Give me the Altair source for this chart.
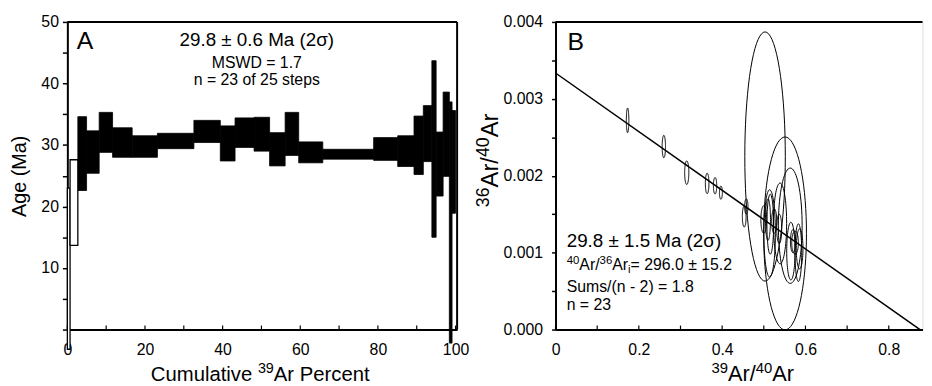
import altair as alt
import pandas as pd

FONT = "Liberation Sans"

# ---------------- Panel A: age spectrum ----------------
step_bounds = [0, 0.7, 2.7, 4.95, 8.2, 11.65, 16.7, 23.2, 32.6, 39.4, 43.2, 48.1, 52.1,
               56.1, 59.6, 65.8, 78.9, 85.1, 89.3, 91.7, 93.9, 95.0, 96.8, 98.4, 99.1, 100]
age_hi = [23.0, 27.6, 34.6, 32.3, 35.3, 32.8, 31.5, 31.9, 34.0, 33.1, 34.4, 34.5, 32.0,
          35.3, 30.5, 29.3, 31.2, 31.5, 34.7, 36.4, 43.7, 32.1, 38.6, 37.0, 35.6]
age_lo = [-3.2, 13.7, 22.6, 25.4, 28.8, 28.0, 28.0, 29.4, 30.4, 27.4, 29.6, 29.0, 26.6,
          28.3, 27.1, 27.7, 27.5, 26.5, 25.2, 27.3, 15.0, 21.7, 24.9, -2.2, 18.9]
included = [False, False] + [True] * 23

xA_ticks = [0, 10, 20, 30, 40, 50, 60, 70, 80, 90, 100]
xA_labels = [0, 20, 40, 60, 80, 100]
yA_ticks = [0, 5, 10, 15, 20, 25, 30, 35, 40, 45, 50]

# ---------------- Panel B: inverse isochron ----------------
ell_x = [0.173, 0.260, 0.315, 0.364, 0.383, 0.397, 0.453, 0.458, 0.503, 0.551, 0.5635, 0.539,
         0.514, 0.500, 0.510, 0.525, 0.537, 0.565, 0.583, 0.586, 0.570, 0.5155, 0.575]
ell_y = [0.00272, 0.00238, 0.00204, 0.00190, 0.00187, 0.00178, 0.00147, 0.00160, 0.00225,
         0.00125, 0.00135, 0.00138, 0.00125, 0.00143, 0.00143, 0.00141, 0.00131, 0.00102,
         0.00100, 0.00105, 0.00115, 0.00137, 0.00113]
ell_dx = [0.003, 0.004, 0.005, 0.0043, 0.004, 0.0035, 0.0045, 0.004, 0.0486, 0.0514, 0.0285,
          0.0158, 0.0138, 0.007, 0.006, 0.006, 0.006, 0.010, 0.008, 0.008, 0.006, 0.008, 0.008]
ell_dy = [0.00016, 0.000146, 0.000154, 0.000133, 0.000107, 0.000086, 0.000137, 0.0001, 0.00162,
          0.001254, 0.00075, 0.000525, 0.000568, 0.00018, 0.00027, 0.00016, 0.00019, 0.000375,
          0.000375, 0.00026, 0.00015, 0.00039, 0.00015]
line_x = [0.0, 0.875]
line_y = [0.003336, 0.0]

xB_ticks = [0.0, 0.1, 0.2, 0.3, 0.4, 0.5, 0.6, 0.7, 0.8]
xB_labels = [0.0, 0.2, 0.4, 0.6, 0.8]
yB_ticks = [0.0, 0.0005, 0.001, 0.0015, 0.002, 0.0025, 0.003, 0.0035, 0.004]

WA, HA = 394, 311
WB, HB = 371, 311
TITLE_BASE = 363

xA_scale = alt.Scale(domain=[0, 100.4], nice=False, zero=False)
yA_scale = alt.Scale(domain=[0, 50], nice=False, zero=False)
xB_scale = alt.Scale(domain=[0, 0.881], nice=False, zero=False)
yB_scale = alt.Scale(domain=[0, 0.004], nice=False, zero=False)

common_axis = dict(labelFont=FONT, labelFontSize=16, labelColor="black",
                   titleFont=FONT, titleFontSize=20, titleFontWeight="normal", titleColor="black",
                   domainColor="black", domainWidth=2, grid=False,
                   labelFlush=False, labelOverlap=False)

axis_xA = alt.Axis(values=xA_labels, ticks=False, tickSize=0, labelPadding=12,
                   title=None, **common_axis)
axis_yA = alt.Axis(values=yA_ticks,
                   labelExpr="datum.value % 10 == 0 && datum.value > 0 ? datum.label : ''",
                   tickSize=5, tickWidth=1.5, tickColor="black", labelPadding=4,
                   title="Age (Ma)", titlePadding=12, **common_axis)
axis_xB = alt.Axis(values=xB_labels, ticks=False, tickSize=0, labelPadding=12,
                   labelExpr="datum.value == 0 ? '0' : format(datum.value, '.1f')",
                   title=None, **common_axis)
axis_yB = alt.Axis(values=yB_ticks,
                   labelExpr="round(datum.value * 10000) % 10 == 0 ? format(datum.value, '.3f') : ''",
                   tickSize=4, tickWidth=1.5, tickColor="black", labelPadding=9,
                   title=None, **common_axis)

XA = lambda f: alt.X(f, scale=xA_scale, axis=axis_xA)
YA = lambda f: alt.Y(f, scale=yA_scale, axis=axis_yA)
XB = lambda f: alt.X(f, scale=xB_scale, axis=axis_xB)
YB = lambda f: alt.Y(f, scale=yB_scale, axis=axis_yB)

# Arial / Liberation Sans advance widths (1/1000 em) for rich-text layout
W = {c: 556 for c in "0123456789"}
W.update({" ": 278, ".": 278, "/": 278, "=": 584, "±": 549, "-": 333, "(": 333, ")": 333,
          "A": 667, "r": 333, "C": 722, "u": 556, "m": 833, "l": 222, "a": 556, "t": 278,
          "i": 222, "v": 500, "e": 556, "P": 667, "c": 500, "n": 556})


def rich(segments, align, enc_x, enc_y, angle=0):
    """segments: list of (text, fontSize, baseline shift). Returns list of text layers."""
    widths = [sum(W.get(ch, 556) for ch in s) * size / 1000 for s, size, _ in segments]
    off = 0 if align == "left" else -sum(widths) / 2
    out = []
    for (s, size, shift), w in zip(segments, widths):
        m = alt.Chart(pd.DataFrame({"x": [0]})).mark_text(
            text=s, font=FONT, fontSize=size, align="left", baseline="alphabetic",
            color="black", dx=off, dy=shift, angle=angle)
        out.append(m.encode(x=enc_x, y=enc_y))
        off += w
    return out


def txt(df, size, align, fx, fy):
    return alt.Chart(df).mark_text(font=FONT, fontSize=size, align=align,
                                   baseline="alphabetic", color="black").encode(
        x=fx("x:Q"), y=fy("y:Q"), text="text:N")


steps = pd.DataFrame({"x0": step_bounds[:-1], "x1": step_bounds[1:],
                      "lo": age_lo, "hi": age_hi, "inc": included})

filled = alt.Chart(steps).transform_filter("datum.inc").mark_rect(
    fill="black", stroke="black", strokeWidth=0.8).encode(
    x=XA("x0:Q"), x2="x1:Q", y=YA("lo:Q"), y2="hi:Q")
open_steps = alt.Chart(steps).transform_filter("!datum.inc").mark_rect(
    fill="white", stroke="black", strokeWidth=1.3).encode(
    x=XA("x0:Q"), x2="x1:Q", y=YA("lo:Q"), y2="hi:Q")

tickA = alt.Chart(pd.DataFrame({"t": xA_ticks})).mark_rule(color="black", strokeWidth=1.2).encode(
    x=XA("t:Q"), y=alt.value(HA), y2=alt.value(HA - 4))
frameA_top = alt.Chart(pd.DataFrame({"d": [0]})).mark_rule(color="black", strokeWidth=2).encode(
    x=alt.value(0), x2=alt.value(WA), y=alt.value(0))
frameA_right = alt.Chart(pd.DataFrame({"d": [0]})).mark_rule(color="black", strokeWidth=2).encode(
    x=alt.value(WA), y=alt.value(0), y2=alt.value(HA))

textA_letter = txt(pd.DataFrame({"x": [2.4], "y": [45.6], "text": ["A"]}), 25, "left", XA, YA)
textA_age = txt(pd.DataFrame({"x": [48.8], "y": [46.1], "text": ["29.8 ± 0.6 Ma (2σ)"]}), 19, "center", XA, YA)
textA_small = txt(pd.DataFrame({"x": [48.8, 48.8], "y": [42.5, 39.7],
                                "text": ["MSWD = 1.7", "n = 23 of 25 steps"]}), 16, "center", XA, YA)

titleA_x = rich([("Cumulative ", 20.5, 0), ("39", 14.5, -8), ("Ar Percent", 20.5, 0)],
                "center", alt.value(195), alt.value(TITLE_BASE))

panelA = alt.layer(filled, open_steps, tickA, frameA_top, frameA_right,
                   textA_letter, textA_age, textA_small, *titleA_x).properties(width=WA, height=HA)

# ---------------- Panel B chart ----------------
ell = pd.DataFrame({"id": list(range(len(ell_x))), "cx": ell_x, "cy": ell_y,
                    "dx": ell_dx, "dy": ell_dy})
ellipses = alt.Chart(ell).transform_calculate(
    k="sequence(0, 73)").transform_flatten(["k"]).transform_calculate(
    px="datum.cx + datum.dx * cos(datum.k * 2 * PI / 72)",
    py="datum.cy + datum.dy * sin(datum.k * 2 * PI / 72)").mark_line(
    color="black", strokeWidth=1).encode(
    x=XB("px:Q"), y=YB("py:Q"), detail="id:N", order="k:Q")

reg = alt.Chart(pd.DataFrame({"x": line_x, "y": line_y})).mark_line(
    color="black", strokeWidth=1.5).encode(x=XB("x:Q"), y=YB("y:Q"))

tickB = alt.Chart(pd.DataFrame({"t": xB_ticks})).mark_rule(color="black", strokeWidth=1.2).encode(
    x=XB("t:Q"), y=alt.value(HB), y2=alt.value(HB - 4))
frameB_top = alt.Chart(pd.DataFrame({"d": [0]})).mark_rule(color="black", strokeWidth=2).encode(
    x=alt.value(0), x2=alt.value(WB), y=alt.value(0))

textB_letter = txt(pd.DataFrame({"x": [0.029], "y": [0.00364], "text": ["B"]}), 25, "left", XB, YB)
textB_age = txt(pd.DataFrame({"x": [0.0268], "y": [0.00107], "text": ["29.8 ± 1.5 Ma (2σ)"]}), 19, "left", XB, YB)
textB_small = txt(pd.DataFrame({"x": [0.0268, 0.0268], "y": [0.000493, 0.000257],
                                "text": ["Sums/(n - 2) = 1.8", "n = 23"]}), 16, "left", XB, YB)
ratio_anchor = pd.DataFrame({"x": [0.0268], "y": [0.00077]})
textB_ratio = rich([("40", 11.5, -6), ("Ar/", 16, 0), ("36", 11.5, -6), ("Ar", 16, 0),
                    ("i", 11.5, 3), (" = 296.0 ± 15.2", 16, 0)],
                   "left", alt.value(11.3), alt.value(HB * (1 - 0.00077 / 0.004)))

titleB_x = rich([("39", 15, -8), ("Ar/", 22, 0), ("40", 15, -8), ("Ar", 22, 0)],
                "center", alt.value(199.3), alt.value(TITLE_BASE))
titleB_y = rich([("36", 18, -9), ("Ar/", 24, 0), ("40", 18, -9), ("Ar", 24, 0)],
                "center", alt.value(-58), alt.value(140), angle=270)

panelB = alt.layer(ellipses, reg, tickB, frameB_top,
                   textB_letter, textB_age, textB_small, *textB_ratio,
                   *titleB_x, *titleB_y).properties(width=WB, height=HB)

chart = alt.hconcat(panelA, panelB, spacing=99.5, bounds="flush",
                    padding={"left": 0, "top": 3, "right": 0, "bottom": 0}).configure_view(
    stroke=None).configure(background="white")

chart.save("out.html", embed_options={"renderer": "svg", "actions": False})
